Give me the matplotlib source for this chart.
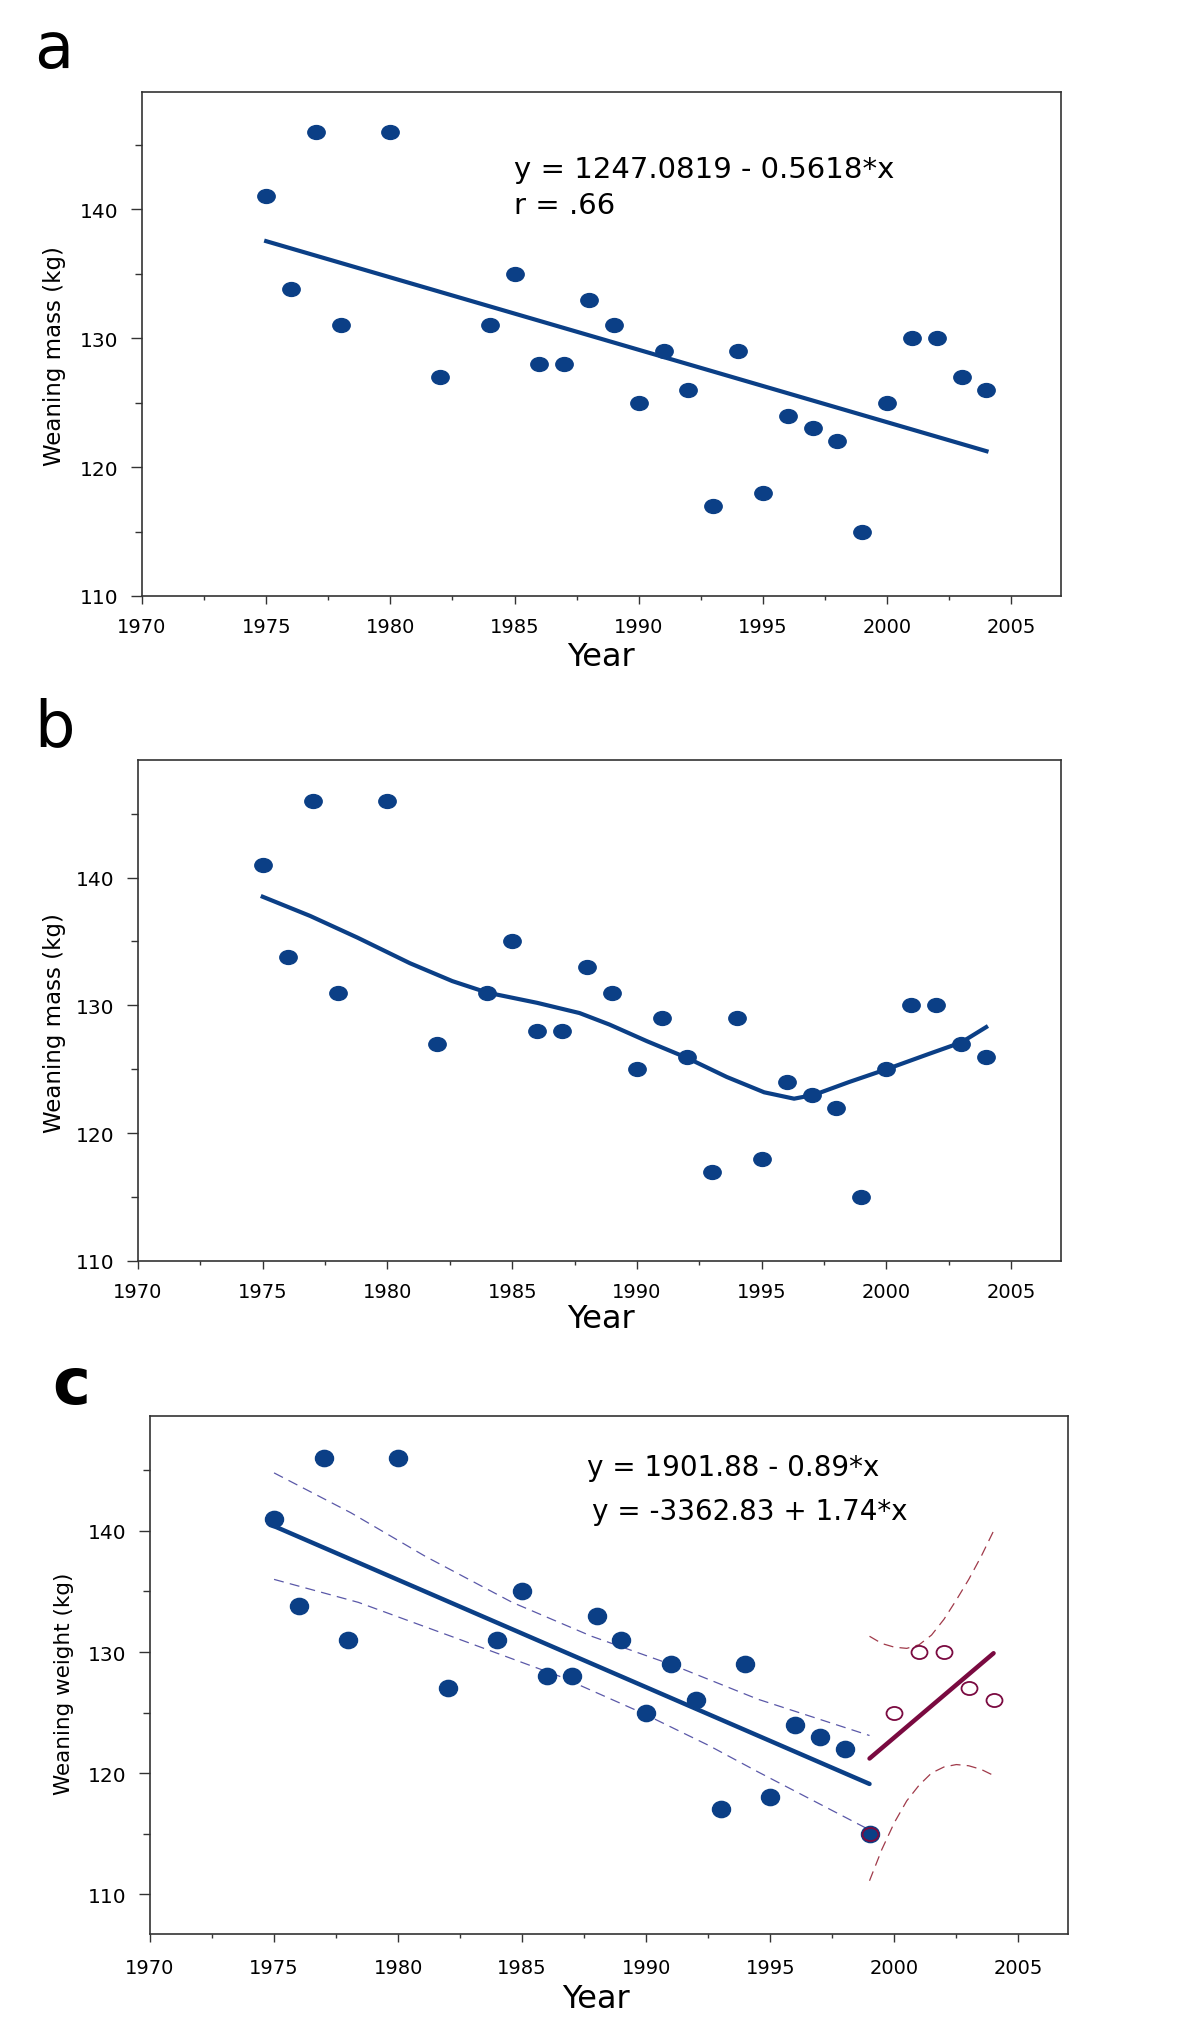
import numpy as np
import matplotlib
matplotlib.use("Agg")
import matplotlib.pyplot as plt
from matplotlib.path import Path
from matplotlib.transforms import Affine2D
from matplotlib.ticker import MultipleLocator

plt.rcParams["font.family"] = ["DejaVu Sans"]

# ---- data ----
years = [1975, 1976, 1977, 1978, 1980, 1982, 1984, 1985, 1986, 1987, 1988, 1989,
         1990, 1991, 1992, 1993, 1994, 1995, 1996, 1997, 1998, 1999,
         2000, 2001, 2002, 2003, 2004]
mass = [141, 133.8, 146, 131, 146, 127, 131, 135, 128, 128, 133, 131,
        125, 129, 126, 117, 129, 118, 124, 123, 122, 115,
        125, 130, 130, 127, 126]

# panel a: printed regression
A_INTERCEPT, A_SLOPE = 1247.0819, -0.5618
a_fit_years = [1975, 2004]

# panel b: smoothed (loess) curve
loess_years = [1975.0, 1976.9, 1978.8, 1980.9, 1982.6, 1984.0, 1986.0, 1987.7, 1988.9,
               1990.4, 1992.0, 1993.6, 1995.1, 1996.3, 1997.1, 1998.5, 2000.0,
               2001.7, 2003.0, 2004.0]
loess_vals = [138.5, 137.0, 135.3, 133.3, 131.9, 131.0, 130.2, 129.4, 128.5,
              127.2, 125.9, 124.4, 123.2, 122.7, 123.0, 124.0, 125.0,
              126.2, 127.1, 128.3]

# panel c: piecewise fits and confidence bands
c1_years = [1975, 1999]
c1_fit = [140.4, 119.1]
c2_years = [1999, 2004]
c2_fit = [121.2, 129.9]
band1_years = [1975.0, 1978.1, 1981.1, 1984.6, 1987.8, 1991.1, 1994.5, 1999.0]
band1_upper = [144.8, 141.5, 137.9, 134.1, 131.3, 128.9, 126.1, 123.1]
band1_lower_years = [1975.0, 1978.4, 1982.4, 1986.5, 1989.8, 1992.5, 1994.5, 1999.0]
band1_lower = [136.0, 134.1, 131.1, 128.0, 125.0, 122.3, 120.1, 115.3]
band2_up_years = [1999.0, 1999.5, 2000.0, 2000.5, 2001.0, 2001.5, 2002.0, 2002.5, 2003.0, 2003.5, 2004.0]
band2_upper = [131.3, 130.7, 130.4, 130.3, 130.6, 131.4, 132.7, 134.3, 136.0, 137.9, 140.0]
band2_lo_years = [1999.0, 1999.5, 2000.0, 2000.5, 2001.0, 2001.5, 2002.0, 2002.5, 2003.0, 2003.5, 2004.0]
band2_lower = [111.1, 113.7, 115.9, 117.7, 119.0, 120.0, 120.5, 120.7, 120.6, 120.3, 119.8]

eq_a = ["y = 1247.0819 - 0.5618*x", "r = .66"]
eq_c = ["y = 1901.88 - 0.89*x", "y = -3362.83 + 1.74*x"]

BLUE = "#0b3f86"
MAROON = "#7a0a40"
BAND_BLUE = "#5a58a8"
BAND_RED = "#a03a4a"
SPINE = "#333333"

W, H = 1200, 2024
fig = plt.figure(figsize=(W / 100, H / 100), dpi=100)


def px_axes(left, top, right, bottom):
    return fig.add_axes([left / W, 1 - bottom / H, (right - left) / W, (bottom - top) / H])


def ellipse(ratio):
    return Path(Affine2D().scale(1.0, ratio).transform(Path.unit_circle().vertices),
                Path.unit_circle().codes)


def style(ax, ylim, xpad):
    ax.set_xlim(1970, 2007)
    ax.set_ylim(*ylim)
    ax.xaxis.set_major_locator(MultipleLocator(5))
    ax.xaxis.set_minor_locator(MultipleLocator(2.5))
    ax.yaxis.set_major_locator(MultipleLocator(10))
    ax.yaxis.set_minor_locator(MultipleLocator(5))
    ax.tick_params(axis="x", which="major", direction="out", length=5.5, width=1,
                   pad=xpad, labelsize=14, color=SPINE)
    ax.tick_params(axis="x", which="minor", direction="out", length=3, width=1, color=SPINE)
    ax.tick_params(axis="y", which="major", direction="out", length=8, width=1,
                   pad=9, labelsize=14.5, color=SPINE)
    ax.tick_params(axis="y", which="minor", direction="out", length=5, width=1, color=SPINE)
    for s in ax.spines.values():
        s.set_color(SPINE)
        s.set_linewidth(1.2)


dot = ellipse(0.8)

# ---- panel a ----
ax = px_axes(142, 93, 1061, 597)
style(ax, (110, 149.1), 9.5)
ax.plot(years, mass, ls="none", marker=dot, ms=12.5, color=BLUE, mec=BLUE)
fx = np.array(a_fit_years, dtype=float)
ax.plot(fx, A_INTERCEPT + A_SLOPE * fx, color=BLUE, lw=3)
fig.text(514 / W, 1 - 170 / H, eq_a[0], fontsize=21, va="center")
fig.text(514 / W, 1 - 206 / H, eq_a[1], fontsize=21, va="center")
fig.text(34 / W, 1 - 68 / H, "a", fontsize=46, va="baseline")
fig.text(601 / W, 1 - 658 / H, "Year", fontsize=23, ha="center", va="center")
fig.text(54 / W, 1 - 356 / H, "Weaning mass (kg)", fontsize=16.5, rotation=90,
         ha="center", va="center")

# ---- panel b ----
ax = px_axes(138, 761, 1061, 1262)
style(ax, (110, 149.2), 9.5)
ax.plot(years, mass, ls="none", marker=dot, ms=12.5, color=BLUE, mec=BLUE)
ax.plot(loess_years, loess_vals, color=BLUE, lw=3)
fig.text(34 / W, 1 - 746 / H, "b", fontsize=46, va="baseline")
fig.text(601 / W, 1 - 1320 / H, "Year", fontsize=23, ha="center", va="center")
fig.text(54 / W, 1 - 1023 / H, "Weaning mass (kg)", fontsize=16.5, rotation=90,
         ha="center", va="center")

# ---- panel c ----
ax = px_axes(150, 1417, 1068, 1935)
style(ax, (106.7, 149.5), 11.5)
n1 = years.index(1999) + 1
ax.plot(band1_years, band1_upper, color=BAND_BLUE, lw=0.9, dashes=(8, 5))
ax.plot(band1_lower_years, band1_lower, color=BAND_BLUE, lw=0.9, dashes=(8, 5))
ax.plot(band2_up_years, band2_upper, color=BAND_RED, lw=0.9, dashes=(8, 5))
ax.plot(band2_lo_years, band2_lower, color=BAND_RED, lw=0.9, dashes=(8, 5))
ax.plot(c1_years, c1_fit, color=BLUE, lw=3.2, solid_capstyle="round")
ax.plot(c2_years, c2_fit, color=MAROON, lw=3.2, solid_capstyle="round")
ax.plot(years[:n1], mass[:n1], ls="none", marker=ellipse(0.9), ms=13, color=BLUE, mec=BLUE)
ax.plot(years[n1 - 1:], mass[n1 - 1:], ls="none", marker=ellipse(0.82), ms=11.5,
        mfc="none", mec=MAROON, mew=1.3)
fig.text(587 / W, 1 - 1468 / H, eq_c[0], fontsize=20, va="center")
fig.text(592 / W, 1 - 1512 / H, eq_c[1], fontsize=20, va="center")
fig.text(52 / W, 1 - 1404 / H, "c", fontsize=46, fontweight="bold", va="baseline")
fig.text(596 / W, 1 - 2000 / H, "Year", fontsize=23, ha="center", va="center")
fig.text(64 / W, 1 - 1684 / H, "Weaning weight (kg)", fontsize=15.5, rotation=90,
         ha="center", va="center")

fig.savefig("out.png", dpi=100, facecolor="white")
